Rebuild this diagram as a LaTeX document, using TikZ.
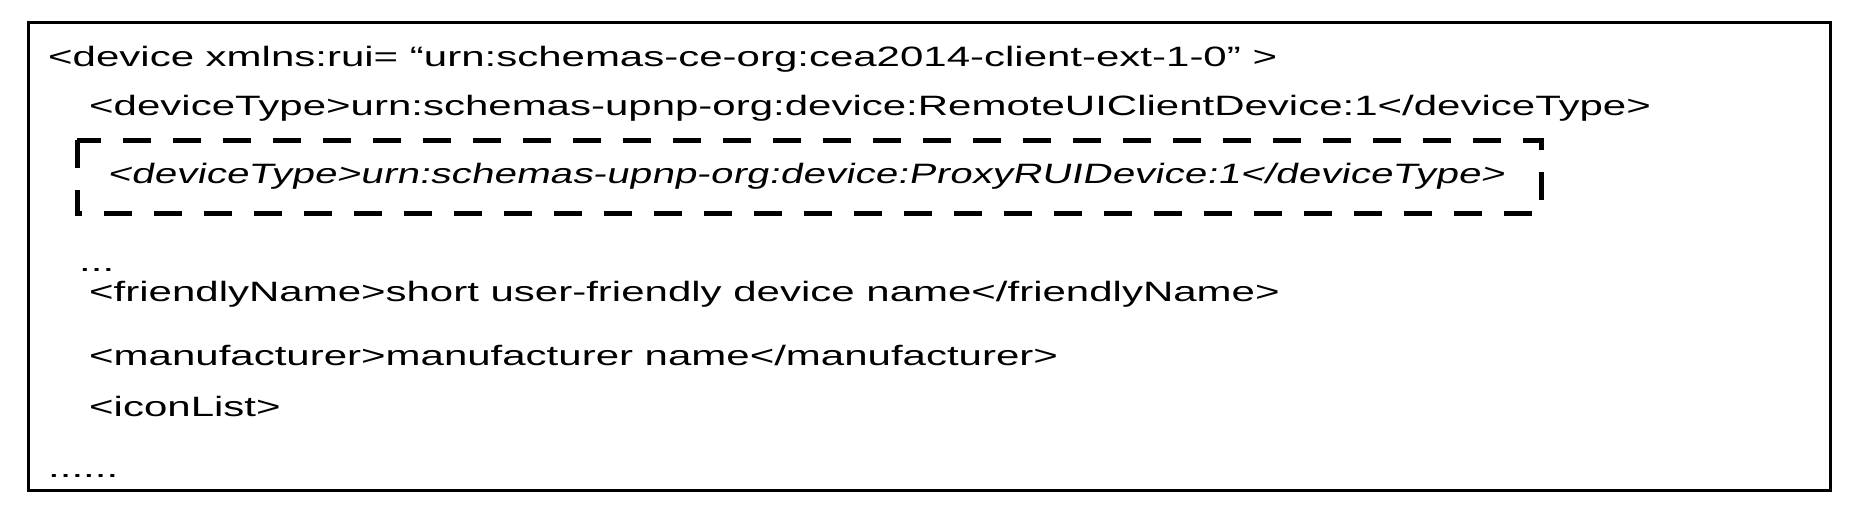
\documentclass[tikz,border=0pt]{standalone}
\usepackage{fontspec}
\setmainfont{Liberation Sans}[FakeStretch=1.5]
\newfontfamily\slfont{Liberation Sans}[FakeStretch=1.45,FakeSlant=0.2]
\begin{document}
\begin{tikzpicture}[x=1pt,y=-1pt,
  t/.style={anchor=base west,inner sep=0pt,font=\fontsize{28}{28}\selectfont}]
\useasboundingbox (0,0) rectangle (1856,528);
\draw[line width=3pt] (28,22) rectangle (1830,490);
\node[t] (l1) at (48,66) {<device xmlns:rui= “urn:schemas-ce-org:cea2014-client-ext-1-0” >};
\node[t] (l2) at (89,115) {<deviceType>urn:schemas-upnp-org:device:RemoteUIClientDevice:1</deviceType>};
\node[t] (l3) at (107,183) {\slfont <deviceType>urn:schemas-upnp-org:device:ProxyRUIDevice:1</deviceType>};
\draw[line width=5pt,dash pattern=on 28pt off 22pt] (77,140) rectangle (1541,213);
\node[t] (l4) at (79,271) {...};
\node[t] (l5) at (89,301) {<friendlyName>short user-friendly device name</friendlyName>};
\node[t] (l6) at (89,365) {<manufacturer>manufacturer name</manufacturer>};
\node[t] (l7) at (89,416) {<iconList>};
\node[t] (l8) at (48,477) {......};
\end{tikzpicture}
\end{document}
